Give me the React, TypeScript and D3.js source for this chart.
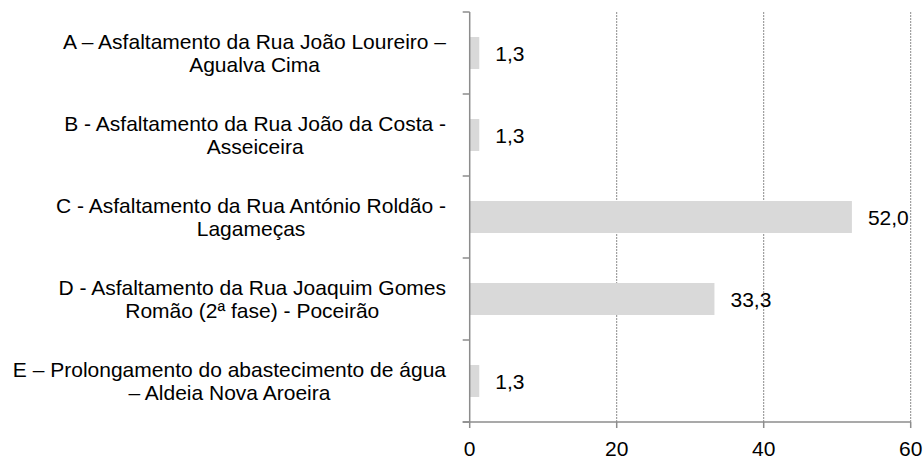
import { useEffect, useRef } from "react";
import * as d3 from "d3";

const CATEGORIES = [
  ["A – Asfaltamento da Rua João Loureiro –", "Agualva Cima"],
  ["B - Asfaltamento da Rua João da Costa -", "Asseiceira"],
  ["C - Asfaltamento da Rua António Roldão -", "Lagameças"],
  ["D - Asfaltamento da Rua Joaquim Gomes", "Romão (2ª fase) - Poceirão"],
  ["E – Prolongamento do abastecimento de água", "– Aldeia Nova Aroeira"],
];
const VALUES = [1.3, 1.3, 52.0, 33.3, 1.3];
const X_TICKS = [0, 20, 40, 60];

export default function App() {
  const svgRef = useRef<SVGSVGElement>(null);

  useEffect(() => {
    if (!svgRef.current) return;
    const width = 924;
    const height = 456;
    const margin = { top: 12, right: 13.3, bottom: 34, left: 469.7 };
    const font = "'Liberation Sans', Arial, sans-serif";
    const fontSize = 21;

    const svg = d3.select(svgRef.current);
    svg.selectAll("*").remove();
    svg.attr("width", width).attr("height", height);

    const x = d3.scaleLinear().domain([0, 60]).range([margin.left, width - margin.right]);
    const y = d3.scaleBand<number>()
      .domain(d3.range(CATEGORIES.length))
      .range([margin.top, height - margin.bottom])
      .paddingInner(0.61)
      .paddingOuter(0.305);

    const y0 = margin.top;
    const y1 = height - margin.bottom;

    // Grid lines
    svg.append("g")
      .selectAll("line")
      .data(X_TICKS.filter(d => d > 0))
      .join("line")
      .attr("x1", d => x(d)).attr("x2", d => x(d))
      .attr("y1", y0).attr("y2", y1)
      .attr("stroke", "#8c8c8c")
      .attr("stroke-width", 1)
      .attr("stroke-dasharray", "2,1");

    // Bars
    svg.append("g")
      .selectAll("rect")
      .data(VALUES)
      .join("rect")
      .attr("x", x(0))
      .attr("y", (_, i) => y(i)!)
      .attr("width", d => x(d) - x(0))
      .attr("height", y.bandwidth())
      .attr("fill", "#d9d9d9");

    // Value labels
    svg.append("g")
      .selectAll("text")
      .data(VALUES)
      .join("text")
      .attr("x", d => x(d) + 16)
      .attr("y", (_, i) => y(i)! + y.bandwidth() / 2)
      .attr("dominant-baseline", "central")
      .attr("font-family", font)
      .attr("font-size", fontSize)
      .attr("fill", "#000")
      .text(d => d.toFixed(1).replace(".", ","));

    // Axes
    const axisColor = "#8c8c8c";
    const step = y.step();
    const catTicks = d3.range(CATEGORIES.length + 1).map(i => y0 + i * step);

    svg.append("line")
      .attr("x1", x(0)).attr("x2", x(0))
      .attr("y1", y0).attr("y2", y1)
      .attr("stroke", axisColor).attr("stroke-width", 1.5);
    svg.append("g")
      .selectAll("line")
      .data(catTicks)
      .join("line")
      .attr("x1", x(0) - 7).attr("x2", x(0))
      .attr("y1", d => d).attr("y2", d => d)
      .attr("stroke", axisColor).attr("stroke-width", 1.5);

    svg.append("line")
      .attr("x1", x(0) - 7).attr("x2", x(60))
      .attr("y1", y1).attr("y2", y1)
      .attr("stroke", axisColor).attr("stroke-width", 1.5);
    svg.append("g")
      .selectAll("line")
      .data(X_TICKS)
      .join("line")
      .attr("x1", d => x(d)).attr("x2", d => x(d))
      .attr("y1", y1).attr("y2", y1 + 6)
      .attr("stroke", axisColor).attr("stroke-width", 1.5);

    svg.append("g")
      .selectAll("text")
      .data(X_TICKS)
      .join("text")
      .attr("x", d => x(d))
      .attr("y", y1 + 26)
      .attr("text-anchor", "middle")
      .attr("dominant-baseline", "central")
      .attr("font-family", font)
      .attr("font-size", fontSize)
      .attr("fill", "#000")
      .text(d => String(d));

    // Category labels: lines centred within their block, block right-aligned
    const rightEdge = 446;
    const lineGap = 23;
    CATEGORIES.forEach((lines, i) => {
      const cy = y(i)! + y.bandwidth() / 2;
      const g = svg.append("g");
      const texts = lines.map((t, j) =>
        g.append("text")
          .attr("y", cy + (j - (lines.length - 1) / 2) * lineGap)
          .attr("dominant-baseline", "central")
          .attr("text-anchor", "middle")
          .attr("font-family", font)
          .attr("font-size", fontSize)
          .attr("fill", "#000")
          .text(t)
      );
      const maxW = d3.max(texts, t => (t.node() as SVGTextElement).getComputedTextLength()) ?? 0;
      texts.forEach(t => t.attr("x", rightEdge - maxW / 2));
    });
  }, []);

  return (
    <div style={{ position: "absolute", left: 0, top: 0 }}>
      <svg ref={svgRef} style={{ display: "block" }} />
    </div>
  );
}
